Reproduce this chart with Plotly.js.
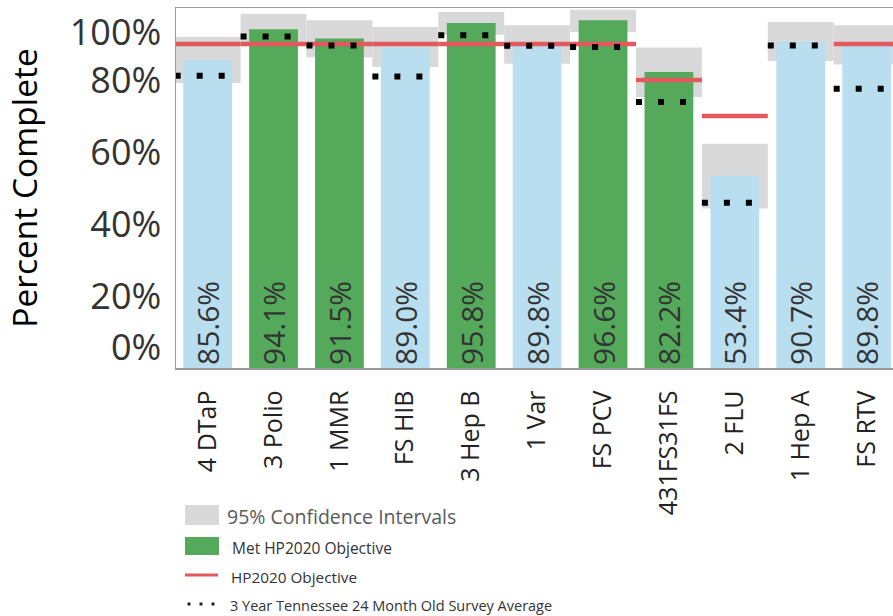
<!DOCTYPE html>
<html>
<head>
<meta charset="utf-8">
<script src="https://cdn.plot.ly/plotly-3.0.1.min.js"></script>
<style>html,body{margin:0;padding:0;background:#fff;}#chart{width:893px;height:616px;}</style>
</head>
<body>
<div id="chart"></div>
<script>
// ---- data ----
const categories = ["4 DTaP", "3 Polio", "1 MMR", "FS HIB", "3 Hep B", "1 Var", "FS PCV", "431FS31FS", "2 FLU", "1 Hep A", "FS RTV"];
const percentComplete = [85.6, 94.1, 91.5, 89.0, 95.8, 89.8, 96.6, 82.2, 53.4, 90.7, 89.8];
const ciLow  = [79.2, 89.8, 86.3, 83.6, 92.6, 84.5, 93.3, 75.3, 44.3, 85.3, 84.3];
const ciHigh = [92.0, 98.4, 96.6, 94.7, 98.9, 95.2, 99.5, 89.0, 62.3, 96.1, 95.2];
const hp2020Objective = [90, 90, 90, 90, 90, 90, 90, 80, 70, null, 90];
const surveyAverage = [81.2, 92.1, 89.6, 81.0, 92.4, 89.5, 89.2, 73.9, 45.9, 89.6, 77.6];
const yTickText = ["0%", "20%", "40%", "60%", "80%", "100%"];
const yTickVals = [5.8, 20, 40, 60, 80, 93.2];

// ---- derived ----
const idx = categories.map((_, i) => i);
const met = percentComplete.map((v, i) => hp2020Objective[i] != null && v >= hp2020Objective[i]);
const segX = (vals) => vals.flatMap((v, i) => v == null ? [] : [i - 0.5, i + 0.5, null]);
const segY = (vals) => vals.flatMap((v) => v == null ? [] : [v, v, null]);

const FONT = "Open Sans, Noto Sans, DejaVu Sans, sans-serif";
const GREEN = "#55a95b", BLUE = "#b9def0", GRAY = "#d9d9d9", RED = "#e25a5d";

const traces = [
  { type: "bar", x: idx, base: ciLow, y: ciHigh.map((h, i) => h - ciLow[i]), width: 1,
    marker: { color: GRAY }, hoverinfo: "skip", showlegend: false },
  { type: "bar", x: idx, y: percentComplete, width: 0.74,
    marker: { color: met.map(m => m ? GREEN : BLUE) },
    texttemplate: "%{y:.1f}%", textposition: "inside", insidetextanchor: "start",
    textangle: -90, textfont: { family: FONT, size: 30, color: "#333333" },
    showlegend: false },
  { type: "scatter", mode: "lines", x: segX(hp2020Objective), y: segY(hp2020Objective),
    line: { color: RED, width: 4.5 }, connectgaps: false, hoverinfo: "skip", showlegend: false },
  { type: "scatter", mode: "lines", x: segX(surveyAverage), y: segY(surveyAverage),
    line: { color: "#000000", width: 6, dash: "6px,16px" }, connectgaps: false, hoverinfo: "skip", showlegend: false }
];

// legend drawn as shapes/annotations (paper coords)
const L = 176, T = 8, W = 717, H = 360;
const px = (x) => (x - L) / W;
const py = (y) => (T + H - y) / H;
const shapes = [
  { type: "rect", xref: "paper", yref: "paper", x0: px(185), x1: px(219), y0: py(525), y1: py(505), fillcolor: GRAY, line: { width: 0 } },
  { type: "rect", xref: "paper", yref: "paper", x0: px(185), x1: px(219), y0: py(555), y1: py(537), fillcolor: GREEN, line: { width: 0 } },
  { type: "line", xref: "paper", yref: "paper", x0: px(185), x1: px(218), y0: py(575), y1: py(575), line: { color: RED, width: 3 } }
];
[189, 201, 213].forEach(x => shapes.push({ type: "rect", xref: "paper", yref: "paper",
  x0: px(x - 1.5), x1: px(x + 1.5), y0: py(605.5), y1: py(602.5), fillcolor: "#222", line: { width: 0 } }));
const ann = (x, y, text, size, color) => ({ xref: "paper", yref: "paper", x: px(x), y: py(y), xanchor: "left", yanchor: "middle",
  text, showarrow: false, font: { family: FONT, size, color } });
const annotations = [
  ann(225, 516, "95% Confidence Intervals", 19.5, "#5a5a5a"),
  ann(230, 548, "Met HP2020 Objective", 15.5, "#333333"),
  ann(229, 577, "HP2020 Objective", 15.3, "#333333"),
  ann(228, 605, "3 Year Tennessee 24 Month Old Survey Average", 14.5, "#333333")
];

const layout = {
  width: 893, height: 616,
  margin: { l: L, r: 0, t: T, b: 616 - T - H },
  paper_bgcolor: "#ffffff", plot_bgcolor: "#ffffff",
  barmode: "overlay", showlegend: false,
  font: { family: FONT },
  xaxis: { range: [-0.48, 10.4], tickvals: idx, ticktext: categories, tickangle: -90,
    tickfont: { family: FONT, size: 25, color: "#222222" }, ticks: "", ticklabelstandoff: 11,
    showline: true, mirror: true, linecolor: "#9a9a9a", linewidth: 1.5, showgrid: false, zeroline: false, fixedrange: true },
  yaxis: { range: [0, 100], tickvals: yTickVals, ticktext: yTickText,
    tickfont: { family: FONT, size: 36, color: "#333333" }, ticks: "", ticklabelstandoff: 6,
    title: { text: "Percent Complete", font: { family: FONT, size: 33.5, color: "#000000" }, standoff: 22 },
    showline: true, linecolor: "#9a9a9a", linewidth: 1.5, showgrid: false, zeroline: false, fixedrange: true },
  shapes, annotations
};

Plotly.newPlot("chart", traces, layout, { displayModeBar: false, staticPlot: true });
</script>
</body>
</html>
